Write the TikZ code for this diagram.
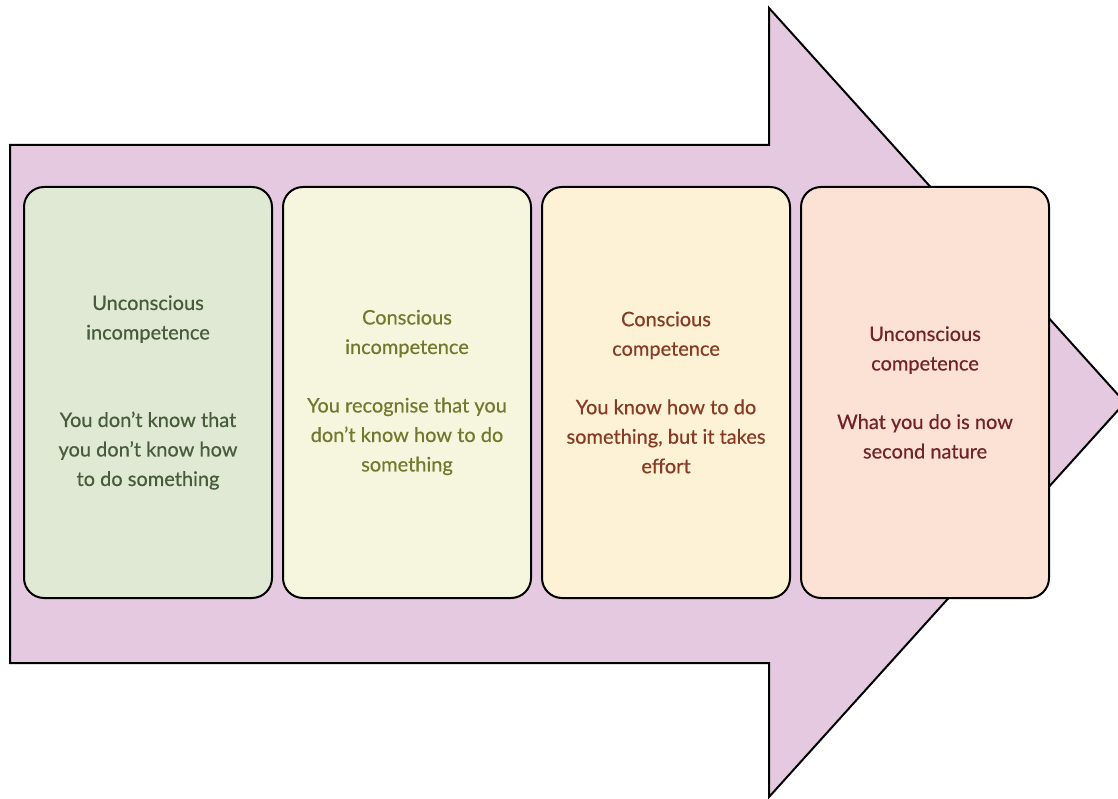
\documentclass[tikz,border=0pt]{standalone}
\usepackage{fontspec}
\setmainfont{Lato}
\newfontfamily\stagefont{Lato}[FakeBold=0.5]
\usetikzlibrary{positioning}
\definecolor{mauve}{HTML}{E4C9E1}
\definecolor{sage}{HTML}{DFE9D3}
\definecolor{cream}{HTML}{F6F6DE}
\definecolor{wheat}{HTML}{FDF1D6}
\definecolor{peach}{HTML}{FCE1D5}
\definecolor{sagetext}{HTML}{465C3A}
\definecolor{olivetext}{HTML}{74782E}
\definecolor{browntext}{HTML}{873B23}
\definecolor{redtext}{HTML}{722424}

\begin{document}
\begin{tikzpicture}[x=1pt,y=1pt,node distance=9pt,
  stage/.style={draw,line width=2pt,rounded corners=20pt,minimum width=248pt,minimum height=411pt,
    inner sep=0pt,align=center,font=\stagefont\fontsize{20}{29.5}\selectfont}]
\useasboundingbox (0,0) rectangle (1118,798);
% the big arrow behind the stages
\draw[line width=2pt,fill=mauve] (10,653) -- (769,653) -- (769,790) -- (1125,395.5)
  -- (769,1) -- (769,135) -- (10,135) -- cycle;
\node[stage,fill=sage,text=sagetext] (ui) at (148,405.5)
  {Unconscious\\incompetence\\[58pt]You don’t know that\\you don’t know how\\to do something};
\node[stage,fill=cream,text=olivetext,right=of ui] (ci)
  {Conscious\\incompetence\\[29pt]You recognise that you\\don’t know how to do\\something};
\node[stage,fill=wheat,text=browntext,right=of ci] (cc)
  {Conscious\\competence\\[29pt]You know how to do\\something, but it takes\\effort};
\node[stage,fill=peach,text=redtext,right=of cc] (uc)
  {Unconscious\\competence\\[29pt]What you do is now\\second nature};
\end{tikzpicture}
\end{document}
